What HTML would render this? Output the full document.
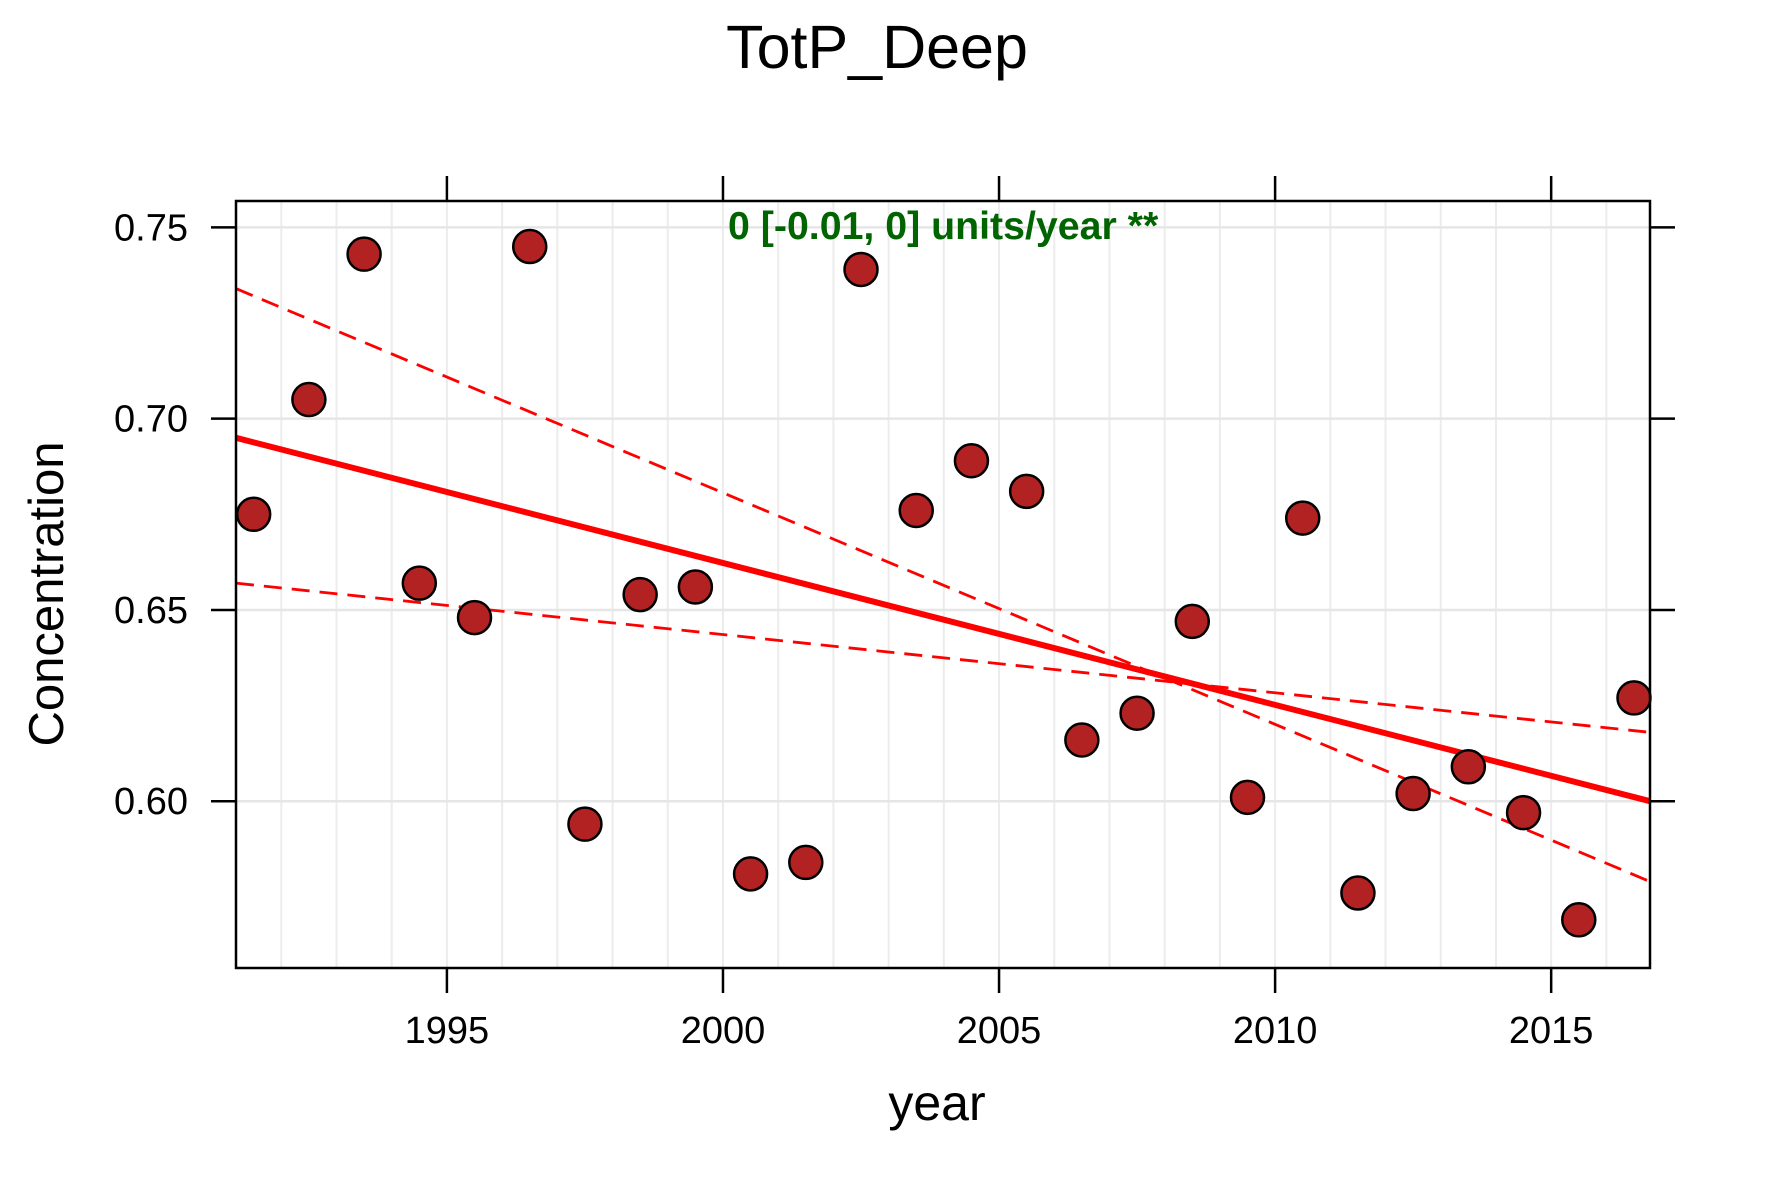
<!DOCTYPE html>
<html><head><meta charset="utf-8"><style>
body{margin:0;background:#fff}
svg{display:block;font-family:"Liberation Sans",Arial,sans-serif}
</style></head><body>
<svg id="chart" width="1771" height="1181" viewBox="0 0 1771 1181">
<text x="877" y="68" font-size="61" text-anchor="middle">TotP_Deep</text>
<g id="grid"></g>
<g id="axes"></g>
<g id="lines"></g>
<g id="pts"></g>
<rect x="236" y="201" width="1414" height="767" fill="none" stroke="#000" stroke-width="2.5"/>
<text x="728" y="239" font-size="39.3" font-weight="bold" fill="#006400">0 [-0.01, 0] units/year **</text>
<text x="937" y="1120" font-size="50" text-anchor="middle">year</text>
<text transform="translate(63,594) rotate(-90)" font-size="49" text-anchor="middle">Concentration</text>
</svg>
<script>
const years=[1991.5,1992.5,1993.5,1994.5,1995.5,1996.5,1997.5,1998.5,1999.5,2000.5,2001.5,2002.5,2003.5,2004.5,2005.5,2006.5,2007.5,2008.5,2009.5,2010.5,2011.5,2012.5,2013.5,2014.5,2015.5,2016.5];
const conc=[0.675,0.705,0.743,0.657,0.648,0.745,0.594,0.654,0.656,0.581,0.584,0.739,0.676,0.689,0.681,0.616,0.623,0.647,0.601,0.674,0.576,0.602,0.609,0.597,0.569,0.627];
const xTicks=[1995,2000,2005,2010,2015];
const yTicks=[0.60,0.65,0.70,0.75];
const yTickLabels=["0.60","0.65","0.70","0.75"];
const trendFit=[0.695,0.600];
const trendUpper=[0.734,0.579];
const trendLower=[0.657,0.618];
const xMin=1991.18,xMax=2016.79,yMin=0.5564,yMax=0.7569;
const L=236,R=1650,T=201,B=968;
const sx=v=>L+(v-xMin)/(xMax-xMin)*(R-L);
const sy=v=>B-(v-yMin)/(yMax-yMin)*(B-T);
const NS="http://www.w3.org/2000/svg";
function mk(tag,attrs,parent){const e=document.createElementNS(NS,tag);for(const k in attrs)e.setAttribute(k,attrs[k]);parent.appendChild(e);return e;}
const grid=document.getElementById('grid'),axes=document.getElementById('axes'),lines=document.getElementById('lines'),pts=document.getElementById('pts');
for(let y=1992;y<=2016;y++){const l=mk('line',{x1:sx(y),x2:sx(y),y1:T,y2:B,stroke:'#ececec','stroke-width':2},grid);

}
yTicks.forEach((v,i)=>{const g=mk('line',{x1:L,x2:R,y1:sy(v),y2:sy(v),stroke:'#e6e6e6','stroke-width':2.5},grid);


const t1=mk('line',{x1:L-25,x2:L,y1:sy(v),y2:sy(v),stroke:'#000','stroke-width':2.5},axes);


const t2=mk('line',{x1:R,x2:R+25,y1:sy(v),y2:sy(v),stroke:'#000','stroke-width':2.5},axes);


const tx=mk('text',{x:L-48,y:sy(v)+13,'font-size':38,'text-anchor':'end'},axes);tx.textContent=yTickLabels[i];

});
xTicks.forEach(v=>{const t1=mk('line',{x1:sx(v),x2:sx(v),y1:B,y2:B+25,stroke:'#000','stroke-width':2.5},axes);


const t2=mk('line',{x1:sx(v),x2:sx(v),y1:T-25,y2:T,stroke:'#000','stroke-width':2.5},axes);


const tx=mk('text',{x:sx(v),y:B+75,'font-size':38,'text-anchor':'middle'},axes);tx.textContent=v;

});
function tl(vals,w,dash){const l=mk('line',{x1:L,x2:R,y1:sy(vals[0]),y2:sy(vals[1]),stroke:'#ff0000','stroke-width':w},lines);if(dash)l.setAttribute('stroke-dasharray',dash);return l;}
const a=tl(trendFit,6,null);


const b=tl(trendUpper,2.8,'18 10');


const c=tl(trendLower,2.8,'18 10');


years.forEach((y,i)=>{const p=mk('circle',{cx:sx(y),cy:sy(conc[i]),r:16.5,fill:'#B22222',stroke:'#000','stroke-width':2.5},pts);

});
</script>
</body></html>
